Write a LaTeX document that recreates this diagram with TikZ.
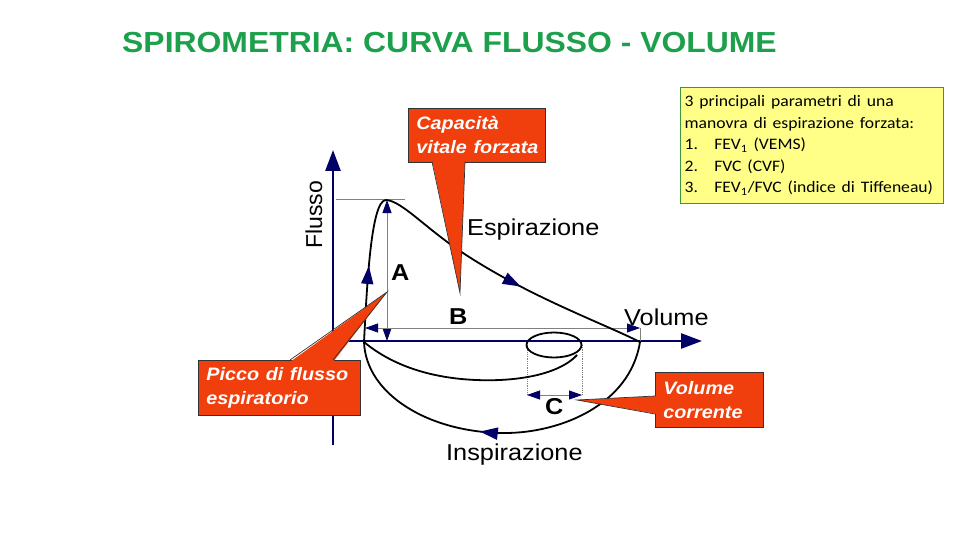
\documentclass[tikz,border=0pt]{standalone}
\usepackage{fontspec}
\setmainfont{Liberation Sans}
\newfontfamily\calfont{Carlito}
\usetikzlibrary{arrows.meta,decorations.markings}
\definecolor{navy}{RGB}{0,0,102}
\definecolor{ttlgreen}{RGB}{28,160,75}
\definecolor{cred}{RGB}{240,62,12}
\definecolor{ybox}{RGB}{255,255,136}
\definecolor{ygreen}{RGB}{60,150,60}
\newcommand\sx[1]{\scalebox{1.1}[1]{#1}}
\newcommand\lbl{\fontsize{23}{27}\selectfont}
\newcommand\clb{\fontsize{18}{24}\selectfont\bfseries\itshape}
\begin{document}
\begin{tikzpicture}[x=1pt,y=-1pt,
  axis/.style={navy, line width=2.6pt, -{Triangle[length=21pt,width=15pt]}},
  curve/.style={black, line width=1.8pt},
  dimline/.style={gray, line width=0.8pt},
  dimarr/.style={dimline, {Triangle[length=13pt,width=9pt,color=navy]}-{Triangle[length=13pt,width=9pt,color=navy]}},
  mk/.style={postaction=decorate, decoration={markings, mark=at position #1 with {\arrow{Triangle[length=18pt,width=12pt,color=navy]}}}},
  callout/.style={fill=cred, draw=black!80, line width=0.7pt, text=white, align=left, inner sep=0pt, anchor=north west, font=\clb},
  lab/.style={font=\lbl, inner sep=0pt, anchor=base west},
  blab/.style={font=\lbl\bfseries, inner sep=0pt, anchor=base west}
]
\useasboundingbox (0,0) rectangle (960,540);

% title
\node[anchor=base west, inner sep=0pt, text=ttlgreen, font=\fontsize{29}{33}\selectfont\bfseries] (title) at (122,53) {\sx{SPIROMETRIA: CURVA FLUSSO - VOLUME}};

% axes
\coordinate (ybot) at (333,445);
\coordinate (ytop) at (333,150);
\coordinate (xl) at (347,341);
\coordinate (xr) at (702,341);
\draw[axis] (ybot) -- (ytop);
\draw[axis] (xl) -- (xr);

\node[font=\lbl, rotate=90, inner sep=0pt] (flusso) at (314,215) {Flusso};

% dimension lines
\coordinate (peak) at (386,200);
\draw[dimline] (336,199) -- (405,199);
\draw[dimarr] (387,200) -- (387,341);
\draw[dimarr] (365,328) -- (640,328);
\draw[dimline] (640,328) -- (640,341);
\draw[dimline, densely dotted] (527,345) -- (527,395);
\draw[dimline, densely dotted] (582,345) -- (582,395);
\draw[dimarr] (527,395) -- (582,395);

% curves
\coordinate (o) at (364,342);
\coordinate (e) at (640,342);
\draw[curve, mk=0.52] (o) .. controls (367,285) and (371,200) .. (peak);
\draw[curve, mk=0.55] (peak) .. controls (402,201) and (425,228) .. (463,253) .. controls (530,297) and (600,322) .. (e);
\draw[curve, mk=0.56] (e) .. controls (630,405) and (560,433) .. (505,433) .. controls (430,433) and (366,395) .. (o);
\draw[curve] (o) .. controls (400,372) and (450,382) .. (500,380) .. controls (540,378) and (565,368) .. (577,355);
\draw[curve] (554,345) ellipse [x radius=27.5, y radius=12.5];

% labels
\node[lab] (esp) at (467,235) {\sx{Espirazione}};
\node[lab] (vol) at (624,325) {\sx{Volume}};
\node[lab] (insp) at (446,460) {\sx{Inspirazione}};
\node[blab] (la) at (391,280) {\sx{A}};
\node[blab] (lb) at (449,324) {\sx{B}};
\node[blab] (lc) at (545,414) {\sx{C}};

% callout 1
\node[callout, minimum width=137pt, minimum height=54pt, text width=121pt, inner xsep=8pt] (cvf) at (408,108) {\sx{Capacità}\\\sx{vitale forzata}};
\coordinate (t1) at (460,293);
\fill[cred] (432,160) -- (t1) -- (465,160) -- cycle;
\draw[black!80, line width=0.7pt] (432,161.8) -- (t1) -- (465,161.8);

% callout 2
\node[callout, minimum width=162pt, minimum height=55pt, text width=146pt, inner xsep=8pt] (pef) at (198,360) {\sx{Picco di flusso}\\\sx{espiratorio}};
\coordinate (t2) at (387,292);
\fill[cred] (290,362) -- (t2) -- (333,362) -- cycle;
\draw[black!80, line width=0.7pt] (290,360) -- (t2) -- (333,360);

% callout 3
\node[callout, minimum width=108pt, minimum height=55pt, text width=92pt, inner xsep=8pt] (vc) at (655,372) {\sx{Volume}\\\sx{corrente}};
\coordinate (t3) at (577,400);
\fill[cred] (657,396) -- (t3) -- (657,414) -- cycle;
\draw[black!80, line width=0.7pt] (655,396) -- (t3) -- (655,414);

% yellow box
\node[anchor=north west, fill=ybox, draw=ygreen, line width=1.2pt, minimum width=263pt, minimum height=116pt, text width=255pt, inner xsep=4pt, align=left, font=\calfont\fontsize{16}{21.5}\selectfont] (box) at (680,87)
{\sx{3 principali parametri di una}\\
 \sx{manovra di espirazione forzata:}\\
 \sx{\makebox[27pt][l]{1.}FEV\textsubscript{1} (VEMS)}\\
 \sx{\makebox[27pt][l]{2.}FVC (CVF)}\\
 \sx{\makebox[27pt][l]{3.}FEV\textsubscript{1}/FVC (indice di Tiffeneau)}};
\end{tikzpicture}
\end{document}
